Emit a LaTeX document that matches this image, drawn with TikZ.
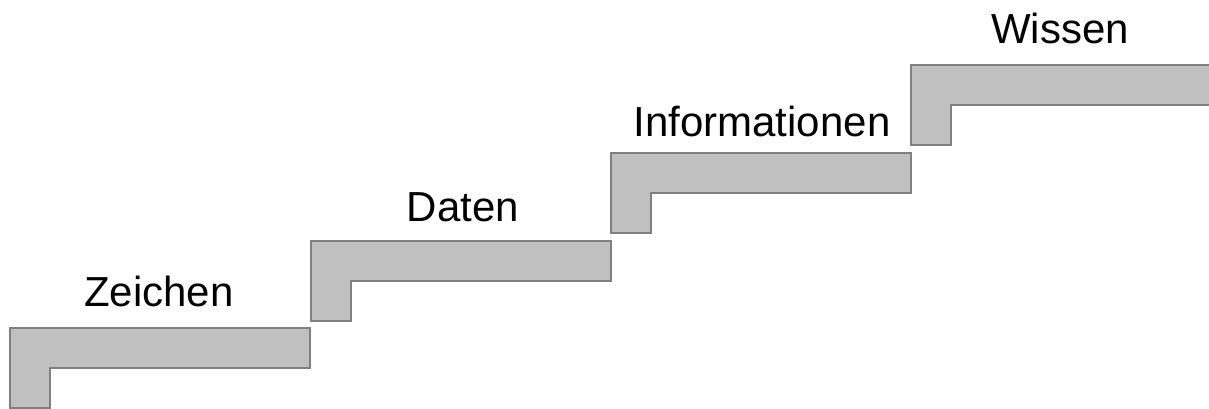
\documentclass[tikz,border=0pt]{standalone}
\usepackage{fontspec}
\setmainfont{Liberation Sans}
\definecolor{stepfill}{HTML}{C0C0C0}
\definecolor{stepline}{HTML}{808080}
\begin{document}
\begin{tikzpicture}[x=0.75pt,y=-0.75pt,
  stair/.style={fill=stepfill,draw=stepline,line width=1.5pt,line join=miter},
  steplabel/.style={anchor=base,inner sep=0pt,font=\fontsize{31.5pt}{36pt}\selectfont}]
\useasboundingbox (0,0) rectangle (1209,408);
\begin{scope}
\clip (0,0) rectangle (1209,408);
% one L-shaped stair step: 300 wide, 40 thick tread, 40 wide riser
\newcommand{\stairstep}[2]{%
  \draw[stair] (#1,#2) -- ++(300,0) -- ++(0,40) -- ++(-260,0) -- ++(0,40)
    -- ++(-40,0) -- cycle;}
\stairstep{10}{328}
\stairstep{310.5}{240.5}
\stairstep{610.5}{152.5}
\stairstep{911}{65}
\end{scope}
\node[steplabel] (zeichen) at (159,306.5) {Zeichen};
\node[steplabel] (daten) at (463,221) {Daten};
\node[steplabel] (info) at (762,136.5) {Informationen};
\node[steplabel] (wissen) at (1060,43) {Wissen};
\end{tikzpicture}
\end{document}
